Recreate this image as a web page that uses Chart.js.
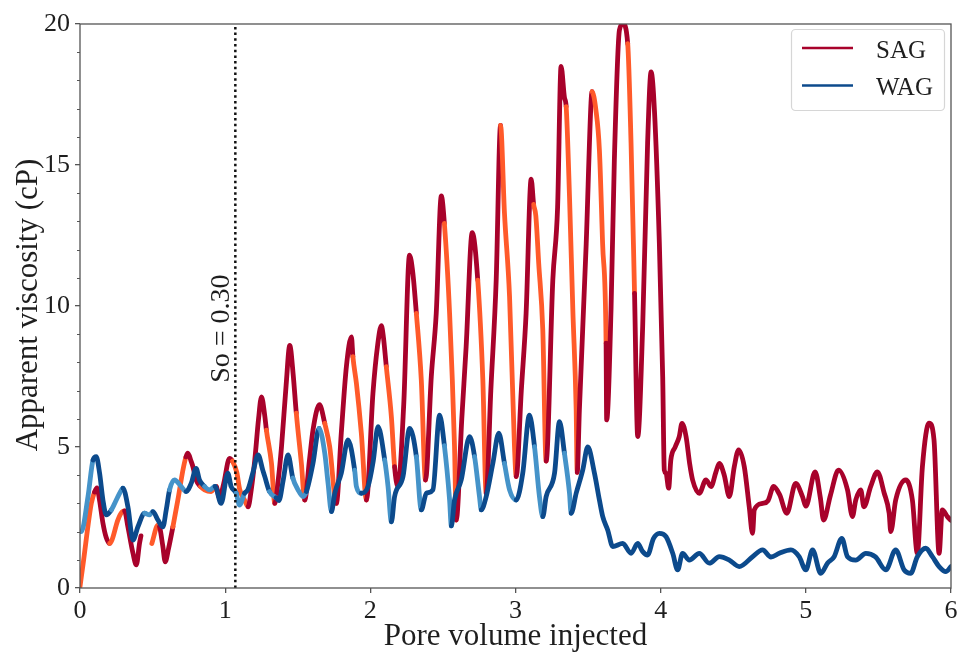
<!DOCTYPE html>
<html>
<head>
<meta charset="utf-8">
<script src="https://cdn.jsdelivr.net/npm/chart.js@4"></script>
<style>
  html, body { margin:0; padding:0; background:#fff; }
  canvas { display:block; }
</style>
</head>
<body>
<canvas id="cvs" width="961" height="652"></canvas>
<script>
// SAG apparent viscosity (cP) vs pore volume injected; null = gap in record
const sagX = [0.0,0.02,0.078,0.1,0.117,0.135,0.158,0.18,0.204,0.22,0.26,0.29,0.307,0.33,0.365,0.388,0.41,0.42,0.45,
  0.495,0.537,0.548,0.57,0.587,0.61,0.64,0.674,0.709,0.73,0.743,0.765,0.778,0.80,0.83,0.858,0.904,0.938,0.96,0.99,
  1.03,1.05,1.08,1.10,1.135,1.158,1.18,1.204,1.23,1.25,1.273,1.284,1.319,1.342,1.365,1.388,1.42,1.445,1.468,1.49,
  1.525,1.548,1.58,1.605,1.65,1.686,1.72,1.766,1.80,1.835,1.87,1.88,1.904,1.938,1.973,2.018,2.05,2.076,2.09,2.11,
  2.145,2.167,2.19,2.23,2.27,2.293,2.317,2.351,2.38,2.42,2.454,2.489,2.51,2.546,2.58,2.592,2.63,2.66,2.702,2.74,
  2.775,2.798,2.83,2.867,2.897,2.924,2.959,2.993,3.005,3.04,3.073,3.108,3.125,3.14,3.16,3.188,3.211,3.257,3.29,
  3.314,3.337,3.349,3.372,3.395,3.418,3.425,3.44,3.487,3.52,3.527,3.554,3.578,3.60,3.624,3.628,3.658,3.681,3.716,
  3.74,3.773,3.796,3.82,3.842,3.876,3.91,3.934,3.957,3.991,4.014,4.025,4.037,4.055,4.07,4.10,4.128,4.147,4.175,
  4.20,4.22,4.266,4.312,4.347,4.38,4.404,4.438,4.473,4.507,4.537,4.576,4.61,4.633,4.645,4.702,4.74,4.778,4.82,
  4.869,4.93,4.977,5.0,5.064,5.1,5.122,5.17,5.225,5.287,5.321,5.344,5.378,5.40,5.447,5.493,5.54,5.574,5.585,
  5.619,5.688,5.734,5.768,5.803,5.849,5.883,5.918,5.94,5.975,6.0];
const sagY = [0.05,0.8,3.0,3.4,3.55,3.1,2.3,1.8,1.58,1.7,2.4,2.7,2.73,2.17,1.23,0.82,1.58,1.85,null,
  1.58,2.23,2.17,1.5,0.93,1.4,2.17,3.12,4.18,4.65,4.78,4.5,4.3,3.83,3.6,3.48,3.42,3.6,3.2,3.7,
  4.6,4.5,4.1,3.5,3.1,2.88,3.5,4.54,6.0,6.78,6.1,5.6,4.42,3.0,3.8,5.0,7.2,8.6,7.6,6.2,
  4.42,3.12,4.5,5.6,6.5,5.84,5.01,3.0,5.5,7.85,8.9,8.2,7.26,5.49,3.12,6.9,8.6,9.3,8.9,7.85,
  6.07,4.3,3.6,6.5,11.8,11.16,9.74,7.38,3.83,7.5,9.74,13.9,12.93,9.74,5.01,2.41,6.0,8.56,12.6,10.92,
  7.38,3.36,7.0,10.92,16.4,13.29,10.33,5.01,3.95,7.0,9.74,14.5,13.6,13.2,11.5,9.15,4.5,10.92,13.5,
  18.5,17.4,17.07,13.88,9.86,6.31,4.1,6.31,12.2,17.19,17.6,16.95,15.53,12.22,8.68,5.96,9.86,15.18,19.79,
  20.0,19.3,15.77,10.45,5.37,9.27,15.77,18.3,16.95,12.22,7.49,4.18,4.07,3.54,4.54,5.0,5.37,5.84,5.37,
  4.4,3.83,3.36,3.83,3.6,4.1,4.42,4.0,3.24,4.3,4.9,4.3,2.88,1.94,2.77,3.0,3.1,3.6,3.3,
  2.65,3.71,3.24,2.9,4.12,3.2,2.41,3.3,4.18,3.48,2.53,3.12,3.48,2.88,3.6,4.12,3.36,2.65,2.0,
  3.12,3.83,3.12,1.23,4.3,5.85,5.25,1.23,2.77,2.53,2.4];

// WAG apparent viscosity (cP)
const wagX = [0.0,0.009,0.055,0.09,0.112,0.135,0.158,0.181,0.216,0.239,0.273,0.296,0.33,0.365,0.399,0.445,0.479,
  0.502,0.537,0.571,0.594,0.617,0.651,0.697,0.731,0.766,0.8,0.823,0.858,0.892,0.93,0.972,1.018,1.041,1.076,1.099,
  1.133,1.156,1.19,1.227,1.259,1.273,1.305,1.351,1.37,1.40,1.433,1.466,1.50,1.537,1.56,1.605,1.647,1.686,1.709,
  1.732,1.755,1.80,1.846,1.892,1.904,1.938,1.984,2.02,2.053,2.099,2.122,2.145,2.167,2.225,2.271,2.317,2.351,2.386,
  2.431,2.477,2.51,2.546,2.558,2.58,2.626,2.684,2.718,2.752,2.764,2.798,2.844,2.885,2.924,2.959,3.005,3.05,3.096,
  3.131,3.165,3.188,3.211,3.269,3.303,3.337,3.372,3.383,3.418,3.463,3.498,3.544,3.578,3.601,3.635,3.67,3.739,
  3.796,3.842,3.875,3.91,3.95,3.991,4.037,4.083,4.117,4.151,4.197,4.266,4.335,4.404,4.473,4.541,4.633,4.702,4.76,
  4.817,4.897,4.954,5.0,5.046,5.103,5.149,5.195,5.248,5.287,5.344,5.413,5.48,5.551,5.619,5.677,5.722,5.768,5.826,
  5.872,5.918,5.964,6.0];
const wagY = [2.0,2.0,3.24,4.54,4.66,4.07,3.12,2.59,2.77,3.0,3.36,3.54,2.88,1.70,2.17,2.65,2.59,
  2.71,2.41,2.17,2.77,3.48,3.83,3.6,3.42,3.71,4.24,3.83,3.6,3.48,3.6,3.0,4.07,3.6,3.36,2.94,
  3.36,3.48,4.07,4.72,4.18,3.95,3.42,3.2,3.1,3.83,4.72,3.9,3.5,3.24,3.42,4.42,5.66,4.78,3.71,
  2.71,3.36,4.07,5.25,4.18,3.6,3.36,3.6,4.5,5.72,4.54,3.6,2.35,3.24,3.95,5.66,4.66,2.77,3.36,
  3.48,6.13,5.05,3.12,2.2,3.12,3.83,5.37,4.66,3.24,2.77,3.24,4.42,5.49,4.42,3.48,3.12,4.07,6.13,
  5.01,3.24,2.53,3.24,4.07,5.9,4.78,3.36,2.65,3.36,4.18,5.0,4.07,3.12,2.53,2.06,1.47,1.58,
  1.23,1.58,1.3,1.17,1.75,1.94,1.82,1.23,0.64,1.23,0.99,1.23,0.88,1.11,0.99,0.76,1.11,1.35,1.1,
  1.23,1.35,1.11,0.64,1.35,0.52,0.88,1.11,1.76,1.11,0.99,1.23,1.1,0.64,1.35,0.64,0.52,1.11,1.41,
  1.11,0.76,0.58,0.76];

// injection phases drawn in the lighter shade (x ranges)
const sagLight = [[0.01,0.09],[0.205,0.305],[0.49,0.545],[0.645,0.73],[0.82,0.93],[1.05,1.15],[1.28,1.345],
  [1.48,1.55],[1.68,1.77],[1.89,1.975],[2.10,2.17],[2.31,2.385],[2.52,2.59],[2.73,2.80],[2.91,3.01],
  [3.13,3.21],[3.345,3.425],[3.54,3.62],[3.76,3.83]];
const wagLight = [[0,0.09],[0.225,0.285],[0.43,0.495],[0.63,0.72],[0.85,0.94],[1.06,1.14],[1.29,1.36],
  [1.48,1.55],[1.665,1.74],[1.87,1.94],[2.08,2.15],[2.30,2.355],[2.50,2.56],[2.71,2.77],[2.91,2.99],
  [3.12,3.19],[3.33,3.39]];

const soX = 1.07;
const soY = [0, 20];
const soLabel = 'So = 0.30';
const xTicks = [0,1,2,3,4,5,6];
const yTicks = [0,5,10,15,20];
const yMinor = [1,2,3,4,6,7,8,9,11,12,13,14,16,17,18,19];
const seriesNames = ['SAG','WAG'];

const C = { sag:'#a8022b', sagL:'#ff5a2a', wag:'#0c4a8c', wagL:'#4593c9', axis:'#555', text:'#1e1e1e' };
const SERIF = '"Liberation Serif", "Times New Roman", serif';

const inRanges = (r, v) => r.some(([a,b]) => v >= a && v <= b);
const pts = (xs, ys) => xs.map((x,i) => ({x, y: ys[i]}));

const deco = {
  id: 'deco',
  afterDraw(chart) {
    const {ctx, chartArea:a, scales:{x, y}} = chart;
    ctx.save();
    // frame
    ctx.strokeStyle = C.axis; ctx.lineWidth = 1.3;
    ctx.strokeRect(a.left, a.top, a.right - a.left, a.bottom - a.top);
    // minor y ticks
    ctx.lineWidth = 1;
    yMinor.forEach(v => {
      const py = Math.round(y.getPixelForValue(v)) + 0.5;
      ctx.beginPath(); ctx.moveTo(a.left - 3, py); ctx.lineTo(a.left, py); ctx.stroke();
    });
    // So label
    ctx.fillStyle = C.text;
    ctx.font = '28px ' + SERIF;
    ctx.save();
    ctx.translate(x.getPixelForValue(0.975), y.getPixelForValue(9.2));
    ctx.rotate(-Math.PI/2);
    ctx.textAlign = 'center'; ctx.textBaseline = 'middle';
    ctx.fillText(soLabel, 0, 0);
    ctx.restore();
    // axis titles
    ctx.font = '31px ' + SERIF;
    ctx.textAlign = 'center'; ctx.textBaseline = 'alphabetic';
    ctx.fillText('Pore volume injected', (a.left + a.right)/2, 645);
    ctx.save();
    ctx.translate(37, 305);
    ctx.rotate(-Math.PI/2);
    ctx.fillText('Apparent viscosity (cP)', 0, 0);
    ctx.restore();
    // legend
    ctx.fillStyle = 'rgba(255,255,255,0.85)';
    ctx.strokeStyle = '#d6d6d6'; ctx.lineWidth = 1.2;
    ctx.beginPath(); ctx.roundRect(791.5, 29.5, 153, 81, 4); ctx.fill(); ctx.stroke();
    const cols = [C.sag, C.wag];
    seriesNames.forEach((n, i) => {
      const ly = 48 + i*37.5;
      ctx.strokeStyle = cols[i]; ctx.lineWidth = 2.5;
      ctx.beginPath(); ctx.moveTo(802, ly); ctx.lineTo(853, ly); ctx.stroke();
      ctx.fillStyle = C.text; ctx.font = '25px ' + SERIF; ctx.textAlign = 'left';
      ctx.fillText(n, 876, ly + 9.5);
    });
    ctx.restore();
  }
};

new Chart(document.getElementById('cvs'), {
  type: 'line',
  data: {
    datasets: [
      { label: seriesNames[0], data: pts(sagX, sagY), order: 3,
        borderColor: C.sag, borderWidth: 4.8, pointRadius: 0, spanGaps: false,
        cubicInterpolationMode: 'monotone', borderCapStyle: 'round', borderJoinStyle: 'round',
        segment: { borderColor: c => inRanges(sagLight, (c.p0.parsed.x + c.p1.parsed.x)/2) ? C.sagL : C.sag } },
      { label: seriesNames[1], data: pts(wagX, wagY), order: 2,
        borderColor: C.wag, borderWidth: 4.8, pointRadius: 0,
        cubicInterpolationMode: 'monotone', borderCapStyle: 'round', borderJoinStyle: 'round',
        segment: { borderColor: c => inRanges(wagLight, (c.p0.parsed.x + c.p1.parsed.x)/2) ? C.wagL : C.wag } },
      { label: 'So', data: soY.map(v => ({x: soX, y: v})), order: 1,
        borderColor: '#111', borderWidth: 2.5, borderDash: [2.5, 3.2], pointRadius: 0 }
    ]
  },
  options: {
    responsive: false, animation: false,
    layout: { padding: { top: 24, right: 10, left: 0, bottom: 0 } },
    plugins: { legend: { display: false }, tooltip: { enabled: false } },
    scales: {
      x: { type: 'linear', min: 0, max: 6,
        afterBuildTicks: s => { s.ticks = xTicks.map(v => ({value: v})); },
        afterFit: s => { s.height = 64; },
        ticks: { font: { family: SERIF, size: 26 }, color: C.text, padding: 3, maxRotation: 0 },
        grid: { drawOnChartArea: false, tickLength: 5, color: C.axis, lineWidth: 1.3 },
        border: { display: false } },
      y: { type: 'linear', min: 0, max: 20,
        afterBuildTicks: s => { s.ticks = yTicks.map(v => ({value: v})); },
        afterFit: s => { s.width = 80; },
        ticks: { font: { family: SERIF, size: 26 }, color: C.text, padding: 5 },
        grid: { drawOnChartArea: false, tickLength: 5, color: C.axis, lineWidth: 1.3 },
        border: { display: false } }
    }
  },
  plugins: [deco]
});
</script>
</body>
</html>
